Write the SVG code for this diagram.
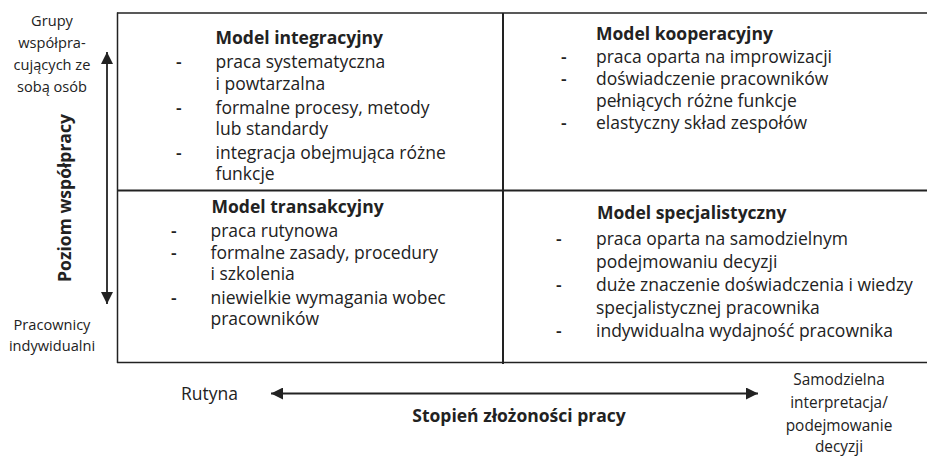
<svg xmlns="http://www.w3.org/2000/svg" width="927" height="456" viewBox="0 0 927 456">
  <style>
    text { font-family: "Open Sans", "Noto Sans", "Liberation Sans", sans-serif; fill: #222; }
    .body { font-size: 17.5px; }
    .dash { font-size: 17.5px; font-weight: 600; }
    .title { font-size: 17.5px; font-weight: bold; }
    .side { font-size: 14.6px; text-anchor: middle; }
    .end { font-size: 15.4px; text-anchor: middle; }
    .axis { font-size: 17.5px; font-weight: bold; text-anchor: middle; }
    .grid { stroke: #222; fill: none; }
    .arrow { stroke: #222; stroke-width: 1.8; fill: none; }
  </style>
  <defs>
    <marker id="head" viewBox="0 0 12 12" refX="12" refY="6" markerWidth="12" markerHeight="12" markerUnits="userSpaceOnUse" orient="auto-start-reverse">
      <path d="M0,0 L12,6 L0,12 Z" fill="#222"/>
    </marker>
  </defs>

  <!-- matrix grid -->
  <g id="grid">
    <line class="grid" x1="117" y1="13" x2="927" y2="13" stroke-width="1.5"/>
    <line class="grid" x1="117.5" y1="12.5" x2="117.5" y2="363" stroke-width="1.5"/>
    <line class="grid" x1="117" y1="362.5" x2="927" y2="362.5" stroke-width="1.5" stroke="#444"/>
    <line class="grid" x1="117" y1="190.5" x2="927" y2="190.5" stroke-width="2"/>
    <line class="grid" x1="503" y1="13" x2="503" y2="364" stroke-width="2"/>
  </g>

  <!-- axes -->
  <g id="connectors">
    <line class="arrow" x1="107" y1="52" x2="107" y2="304" marker-start="url(#head)" marker-end="url(#head)"/>
    <line class="arrow" x1="271" y1="393.5" x2="758" y2="393.5" marker-start="url(#head)" marker-end="url(#head)"/>
  </g>

  <g id="axis-y">
    <text class="side" x="52" y="26">Grupy</text>
    <text class="side" x="52" y="48">współpra-</text>
    <text class="side" x="52" y="70">cujących ze</text>
    <text class="side" x="52" y="92">sobą osób</text>
    <text class="axis" transform="translate(71,198) rotate(-90)">Poziom współpracy</text>
    <text class="side" x="52" y="330">Pracownicy</text>
    <text class="side" x="52" y="351">indywidualni</text>
  </g>

  <g id="axis-x">
    <text class="body" x="181" y="400">Rutyna</text>
    <text class="axis" x="519" y="422">Stopień złożoności pracy</text>
    <text class="end" x="839" y="385">Samodzielna</text>
    <text class="end" x="839" y="408">interpretacja/</text>
    <text class="end" x="839" y="431">podejmowanie</text>
    <text class="end" x="839" y="452">decyzji</text>
  </g>

  <g id="model-integracyjny">
    <text class="title" x="215.5" y="44">Model integracyjny</text>
    <text class="dash" x="176" y="68">-</text>
    <text class="body" x="215.5" y="68">praca systematyczna</text>
    <text class="body" x="215.5" y="90">i powtarzalna</text>
    <text class="dash" x="176" y="114">-</text>
    <text class="body" x="215.5" y="114">formalne procesy, metody</text>
    <text class="body" x="215.5" y="135">lub standardy</text>
    <text class="dash" x="176" y="159">-</text>
    <text class="body" x="215.5" y="159">integracja obejmująca różne</text>
    <text class="body" x="215.5" y="180">funkcje</text>
  </g>

  <g id="model-kooperacyjny">
    <text class="title" x="596" y="40">Model kooperacyjny</text>
    <text class="dash" x="561" y="63">-</text>
    <text class="body" x="596" y="63">praca oparta na improwizacji</text>
    <text class="dash" x="561" y="85">-</text>
    <text class="body" x="596" y="85">doświadczenie pracowników</text>
    <text class="body" x="596" y="107">pełniących różne funkcje</text>
    <text class="dash" x="561" y="129">-</text>
    <text class="body" x="596" y="129">elastyczny skład zespołów</text>
  </g>

  <g id="model-transakcyjny">
    <text class="title" x="211.5" y="213">Model transakcyjny</text>
    <text class="dash" x="171" y="237">-</text>
    <text class="body" x="210.5" y="237">praca rutynowa</text>
    <text class="dash" x="171" y="259">-</text>
    <text class="body" x="210.5" y="259">formalne zasady, procedury</text>
    <text class="body" x="210.5" y="280">i szkolenia</text>
    <text class="dash" x="171" y="304">-</text>
    <text class="body" x="210.5" y="304">niewielkie wymagania wobec</text>
    <text class="body" x="210.5" y="325">pracowników</text>
  </g>

  <g id="model-specjalistyczny">
    <text class="title" x="597" y="219">Model specjalistyczny</text>
    <text class="dash" x="556" y="245">-</text>
    <text class="body" x="596" y="245">praca oparta na samodzielnym</text>
    <text class="body" x="596" y="268">podejmowaniu decyzji</text>
    <text class="dash" x="556" y="291">-</text>
    <text class="body" x="596" y="291">duże znaczenie doświadczenia i wiedzy</text>
    <text class="body" x="596" y="314">specjalistycznej pracownika</text>
    <text class="dash" x="556" y="337">-</text>
    <text class="body" x="596" y="337">indywidualna wydajność pracownika</text>
  </g>
</svg>
